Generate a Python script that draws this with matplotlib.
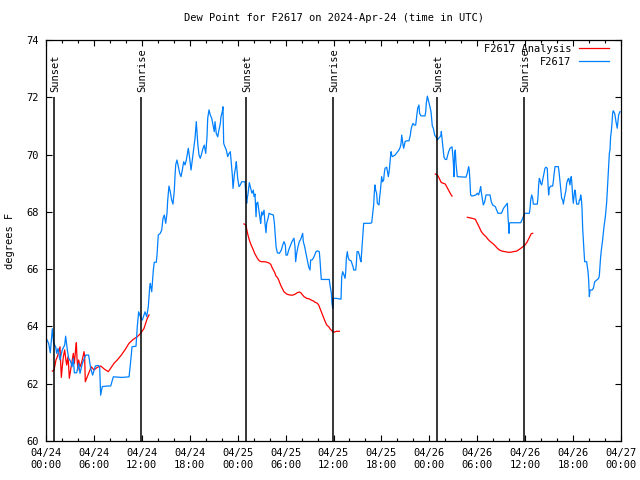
import numpy as np
import matplotlib
matplotlib.use('Agg')
import matplotlib.pyplot as plt
from matplotlib.ticker import MultipleLocator

plt.rcParams['font.family'] = ['DejaVu Sans Mono']
plt.rcParams['font.size'] = 7.5

# hours after 2024-04-24 00:00 UTC, dew point in F
obs_hours = [
    0.00, 0.33, 0.54, 0.67, 0.79, 0.96, 1.21, 1.34, 1.50, 1.75, 2.04, 2.34, 2.46, 2.67,
    2.84, 3.09, 3.26, 3.42, 3.55, 3.84, 4.09, 4.26, 4.55, 4.97, 5.34, 5.59, 5.84, 6.18,
    6.55, 6.72, 6.84, 7.05, 7.68, 8.10, 8.43, 9.55, 10.40, 10.60, 10.77, 11.27, 11.43,
    11.60, 11.90, 12.06, 12.40, 12.61, 12.81, 12.99, 13.06, 13.24, 13.44, 13.56, 13.81,
    13.90, 14.06, 14.31, 14.49, 14.65, 14.81, 14.99, 15.15, 15.24, 15.40, 15.56, 15.74,
    15.90, 16.07, 16.15, 16.24, 16.40, 16.57, 16.74, 16.90, 17.07, 17.24, 17.41, 17.57,
    17.74, 17.82, 17.99, 18.16, 18.32, 18.49, 18.66, 18.82, 19.00, 19.16, 19.32, 19.50,
    19.66, 19.82, 20.00, 20.16, 20.25, 20.41, 20.57, 20.75, 20.91, 21.07, 21.16, 21.32,
    21.50, 21.66, 21.83, 21.91, 22.08, 22.16, 22.25, 22.41, 22.58, 22.75, 22.92, 23.08,
    23.17, 23.33, 23.42, 23.58, 23.75, 23.83, 24.00, 24.17, 24.33, 24.50, 24.92,
    25.00, 25.13, 25.20, 25.29, 25.46, 25.63, 25.79, 25.96, 26.05, 26.17, 26.30, 26.38,
    26.51, 26.64, 26.80, 26.88, 27.01, 27.13, 27.30, 27.42, 27.55, 27.63, 27.80, 27.93,
    28.13, 28.47, 28.60, 28.72, 28.81, 28.97, 29.22, 29.47, 29.64, 29.80, 29.97, 30.05,
    30.22, 30.39, 30.55, 30.80, 30.97, 31.05, 31.18, 31.26, 31.39, 31.55, 31.72, 31.89,
    32.14, 32.22, 32.39, 32.56, 32.72, 32.89, 33.06, 33.14, 33.31, 33.47, 33.64, 33.81,
    33.97, 34.22, 34.31, 34.39, 34.47, 35.47, 35.56, 35.73, 35.81, 35.90, 35.98, 36.40,
    36.94, 37.03, 37.15, 37.32, 37.45, 37.53, 37.61, 37.73, 37.82, 37.95, 38.20, 38.45,
    38.53, 38.78, 38.86, 38.95, 39.11, 39.24, 39.36, 39.45, 39.53, 39.70, 39.78, 40.03,
    40.58, 40.78, 40.86, 41.03, 41.11, 41.19, 41.28, 41.40, 41.49, 41.70, 41.78, 41.86,
    41.95, 42.03, 42.15, 42.28, 42.36, 42.45, 42.66, 42.87, 42.99, 43.12, 43.21, 43.29,
    43.37, 43.70, 44.20, 44.37, 44.46, 44.54, 44.62, 44.71, 44.79, 44.87, 44.96, 45.12,
    45.45, 45.62, 45.70, 45.79, 45.95, 46.12, 46.29, 46.37, 46.45, 46.54, 46.70, 46.78,
    46.95, 47.46, 47.55, 47.62, 47.75, 47.87, 48.05, 48.21, 48.29, 48.37,
    48.50, 48.67, 48.83, 49.00, 49.17, 49.34, 49.46, 49.50, 49.59, 49.67, 49.75, 49.84,
    50.00, 50.17, 50.25, 50.42, 50.59, 50.84, 50.92, 51.00, 51.09, 51.17, 51.25, 51.34,
    51.42, 51.50, 52.59, 52.75, 52.92, 53.00, 53.09, 53.17, 53.34, 53.84, 54.00, 54.17,
    54.34, 54.43, 54.50, 54.67, 54.76, 54.93, 55.10, 55.60, 55.76, 55.93, 56.26, 56.44,
    56.60, 57.02, 57.11, 57.28, 57.44, 57.60, 57.77, 57.85, 57.94, 57.98, 58.02, 58.10,
    59.44, 59.61, 59.77, 59.94, 60.52,
    60.61, 60.69, 60.82, 60.94, 61.02, 61.52, 61.61, 61.69, 61.77, 61.86, 61.94, 62.07,
    62.19, 62.36, 62.48, 62.61, 62.77, 62.82, 62.94, 63.02, 63.19, 63.44, 63.52, 63.61,
    63.74, 64.15, 64.24, 64.36, 64.45, 64.57, 64.70, 64.78, 64.86, 64.99, 65.11, 65.20,
    65.36, 65.45, 65.53, 65.61, 65.70, 65.78, 65.86, 65.95, 66.03, 66.20, 66.28, 66.36,
    66.45, 66.70, 66.78, 66.87, 66.95, 67.03, 67.12, 67.20, 67.28, 67.37, 67.45, 67.70,
    67.87, 67.95, 68.04, 68.12, 68.37, 68.54, 68.71, 68.96, 69.21, 69.29, 69.37, 69.45,
    69.54, 69.62, 69.70, 69.87, 70.04, 70.21, 70.29, 70.37, 70.45, 70.54, 70.62, 70.70,
    70.78, 70.87, 70.95, 71.03, 71.20, 71.28, 71.37, 71.45, 71.53, 71.62, 71.70, 71.78,
    71.87,
]
obs_dew = [
    63.60, 63.41, 63.08, 63.53, 63.92, 63.41, 63.29, 63.06, 63.23, 62.83, 63.18, 63.35, 63.66, 63.18,
    62.89, 62.77, 62.59, 62.89, 62.38, 62.38, 62.71, 62.36, 62.71, 63.00, 63.00, 62.54, 62.30, 62.62,
    62.64, 62.59, 61.60, 61.90, 61.92, 61.92, 62.24, 62.22, 62.24, 62.77, 63.29, 63.31, 63.99,
    64.51, 64.28, 64.22, 64.51, 64.34, 64.69, 65.39, 65.50, 65.21, 65.97, 66.24, 66.24,
    66.49, 67.19, 67.25, 67.37, 67.77, 67.89, 67.60, 67.95, 68.41, 68.90, 68.70, 68.41,
    68.27, 68.76, 69.23, 69.64, 69.81, 69.58, 69.35, 69.23, 69.46, 69.75, 69.64, 69.81,
    70.10, 70.22, 69.87, 69.46, 69.81, 70.16, 70.57, 71.15, 70.39, 69.98, 69.87, 70.04,
    70.22, 70.33, 70.04, 70.62, 71.27, 71.56, 71.38, 71.27, 71.03, 70.80, 71.15, 70.74,
    70.62, 70.86, 71.09, 71.32, 71.50, 71.67, 70.39, 70.27, 70.16, 69.93, 70.04, 70.10,
    69.81, 69.29, 68.82, 69.29, 69.58, 69.75, 69.17, 68.88, 68.94, 69.05, 69.05,
    68.70, 68.30, 68.47, 68.62, 69.02, 68.82, 68.65, 68.76, 68.53, 68.62, 67.83, 68.30,
    68.34, 68.09, 67.77, 67.60, 68.00, 67.89, 68.06, 67.60, 67.27, 67.60, 67.77, 67.95,
    67.92, 67.89, 67.60, 67.13, 66.78, 66.57, 66.55, 66.67, 66.84, 66.96, 66.84, 66.49,
    66.49, 66.67, 66.78, 66.96, 67.04, 67.08, 66.78, 66.26, 66.55, 66.78, 66.96, 67.04,
    67.25, 66.96, 66.78, 66.55, 66.32, 66.08, 65.97, 66.32, 66.32, 66.38, 66.49, 66.61,
    66.64, 66.61, 66.32, 65.97, 65.64, 65.64, 65.45, 65.16, 64.81, 64.63, 64.98, 64.98,
    64.95, 65.74, 65.91, 65.79, 65.68, 65.91, 66.38, 66.61, 66.43, 66.32, 66.29, 66.08,
    65.97, 65.97, 66.20, 66.61, 66.61, 66.49, 66.32, 66.26, 66.61, 67.25, 67.60, 67.60,
    67.60, 67.62, 67.83, 68.24, 68.65, 68.94, 68.76, 68.65, 68.30, 68.24, 68.53, 68.70,
    69.00, 69.23, 69.05, 69.11, 69.35, 69.52, 69.56, 69.23, 69.46, 69.87, 70.10, 69.98,
    69.93, 69.98, 70.16, 70.27, 70.39, 70.68, 70.51, 70.33, 70.22, 70.33, 70.45, 70.48,
    70.48, 70.68, 70.86, 70.97, 71.09, 71.03, 71.03, 71.21, 71.38, 71.62, 71.73, 71.44,
    71.35, 71.35, 71.50, 71.79, 72.04, 71.91, 71.70, 71.50, 71.27, 71.00,
    70.92, 70.68, 70.62, 70.51, 70.57, 70.62, 70.68, 70.80, 70.57, 70.39, 70.16, 69.90,
    69.83, 69.83, 69.93, 70.10, 70.22, 70.27, 70.04, 69.75, 69.23, 70.04, 70.16, 69.69,
    69.46, 69.23, 69.21, 69.35, 69.58, 69.46, 69.05, 68.59, 68.55, 68.59, 68.65, 68.59,
    68.76, 68.88, 68.70, 68.41, 68.24, 68.35, 68.59, 68.59, 68.35, 68.24, 68.18, 68.06,
    67.95, 67.95, 68.00, 68.12, 68.18, 68.24, 68.30, 67.83, 67.48, 67.25, 67.60, 67.62,
    67.62, 67.72, 67.83, 67.95, 67.95,
    68.12, 68.41, 68.59, 68.47, 68.27, 68.27, 68.53, 68.94, 69.17, 69.11, 69.00, 68.94,
    69.11, 69.35, 69.52, 69.56, 69.52, 69.17, 68.59, 68.82, 68.90, 68.90, 69.05, 69.29,
    69.58, 69.58, 69.40, 69.05, 68.76, 68.47, 68.41, 68.27, 68.41, 68.59, 68.76, 69.00,
    69.14, 69.17, 69.05, 68.94, 69.17, 69.23, 68.94, 68.53, 68.30, 68.76, 68.74, 68.47,
    68.27, 68.27, 68.41, 68.41, 68.59, 68.47, 68.12, 67.43, 67.02, 66.61, 66.26, 66.26,
    65.91, 65.62, 65.04, 65.27, 65.27, 65.33, 65.56, 65.62, 65.68, 65.79, 66.14, 66.43,
    66.67, 66.84, 67.02, 67.48, 67.83, 68.35, 68.76, 69.11, 69.58, 70.04, 70.16, 70.62,
    70.80, 71.09, 71.44, 71.53, 71.44, 71.32, 71.15, 71.03, 70.92, 71.15, 71.38, 71.44,
    71.50,
]

nan = float('nan')
ana_hours = [
    0.79, 1.00, 1.13, 1.25, 1.42, 1.59, 1.75, 1.84, 1.92, 2.04, 2.17, 2.34, 2.46, 2.59,
    2.75, 2.84, 2.92, 3.09, 3.26, 3.42, 3.55, 3.72, 3.80, 3.88, 4.00, 4.09, 4.26, 4.42,
    4.59, 4.76, 4.84, 4.92, 5.09, 5.42, 5.67, 6.01, 6.42, 6.84, 7.35, 7.80, 8.10, 8.51,
    8.93, 9.43, 9.93, 10.39, 10.93, 11.43, 11.86, 12.27, 12.68, 12.90, nan,
    24.79, 25.04, 25.13, 25.29, 25.46, 25.63, 25.79, 25.96, 26.13, 26.30, 26.46, 26.71,
    26.96, 27.30, 27.55, 27.89, 28.14, 28.30, 28.47, 28.64, 28.80, 28.97, 29.14, 29.30,
    29.47, 29.64, 29.80, 30.14, 30.47, 30.80, 30.97, 31.22, 31.47, 31.72, 31.89, 32.14,
    32.31, 32.64, 32.97, 33.22, 33.47, 33.72, 33.97, 34.14, 34.31, 34.47, 34.64, 34.81,
    34.97, 35.15, 35.40, 35.56, 35.72, 35.90, 36.06, 36.40, 36.73, nan,
    48.75, 49.00, 49.17, 49.34, 49.50, 49.75, 50.00, 50.17, 50.34, 50.50, 50.67, 50.84, nan,
    52.76, 53.09, 53.43, 53.76, 54.01, 54.26, 54.51, 54.76, 55.10, 55.35, 55.60, 55.93,
    56.26, 56.51, 56.76, 57.10, 57.51, 57.85, 58.19, 58.51, 58.94, 59.27, 59.60, 59.94,
    60.19, 60.44, 60.61, 60.77, 60.94,
]
ana_dew = [
    62.44, 62.48, 62.65, 62.83, 62.94, 63.12, 63.29, 62.71, 62.22, 62.59, 62.94, 63.18, 62.89, 62.65,
    62.94, 62.59, 62.19, 62.48, 62.77, 63.06, 62.71, 63.23, 63.43, 62.89, 62.48, 62.83, 62.59, 62.71,
    62.89, 63.12, 62.94, 62.07, 62.19, 62.42, 62.59, 62.48, 62.57, 62.62, 62.50, 62.42, 62.54, 62.71,
    62.83, 63.00, 63.20, 63.41, 63.55, 63.64, 63.76, 63.93, 64.28, 64.40, nan,
    67.58, 67.54, 67.39, 67.19, 67.02, 66.88, 66.78, 66.67, 66.55, 66.46, 66.38, 66.29,
    66.26, 66.26, 66.25, 66.22, 66.17, 66.06, 65.97, 65.88, 65.76, 65.71, 65.62, 65.50,
    65.39, 65.30, 65.21, 65.13, 65.10, 65.09, 65.10, 65.13, 65.18, 65.20, 65.18, 65.10,
    65.04, 64.98, 64.96, 64.92, 64.89, 64.84, 64.81, 64.75, 64.63, 64.51, 64.40, 64.28,
    64.16, 64.05, 63.99, 63.92, 63.87, 63.82, 63.80, 63.83, 63.83, nan,
    69.32, 69.29, 69.21, 69.11, 69.02, 69.00, 68.97, 68.88, 68.79, 68.70, 68.62, 68.55, nan,
    67.81, 67.79, 67.77, 67.74, 67.60, 67.46, 67.31, 67.22, 67.13, 67.04, 66.97, 66.90,
    66.81, 66.73, 66.67, 66.63, 66.61, 66.59, 66.59, 66.61, 66.63, 66.69, 66.76, 66.83,
    66.92, 67.06, 67.16, 67.24, 67.25,
]

sun_hours = [1.0, 11.95, 25.1, 35.95, 49.0, 59.9]
sun_names = ['Sunset', 'Sunrise', 'Sunset', 'Sunrise', 'Sunset', 'Sunrise']

tick_hours = list(range(0, 73, 6))
tick_labels = ['04/24\n00:00', '04/24\n06:00', '04/24\n12:00', '04/24\n18:00',
               '04/25\n00:00', '04/25\n06:00', '04/25\n12:00', '04/25\n18:00',
               '04/26\n00:00', '04/26\n06:00', '04/26\n12:00', '04/26\n18:00',
               '04/27\n00:00']

fig = plt.figure(figsize=(6.4, 4.8), dpi=100)
ax = fig.add_axes([46 / 640, 1 - 441 / 480, 575 / 640, 401 / 480])

ax.plot(ana_hours, ana_dew, color='#ff0000', lw=0.9, label='F2617 Analysis')
ax.plot(obs_hours, obs_dew, color='#0080ff', lw=0.9, label='F2617')

ax.vlines(sun_hours, 60, 72, color='black', lw=1.1)
for h, name in zip(sun_hours, sun_names):
    ax.text(h + 0.15, 72.2, name, rotation=90, ha='center', va='bottom')

ax.set_xlim(0, 72)
ax.set_ylim(60, 74)
ax.set_xticks(tick_hours)
ax.set_xticklabels(tick_labels)
ax.xaxis.set_minor_locator(MultipleLocator(2))
ax.set_yticks(range(60, 75, 2))
ax.tick_params(which='both', direction='in', top=True, right=True, width=0.8)
ax.tick_params(which='major', length=4, pad=5)
ax.tick_params(which='minor', length=2.2)
for s in ax.spines.values():
    s.set_linewidth(0.9)

ax.set_title('Dew Point for F2617 on 2024-Apr-24 (time in UTC)', fontsize=7.5, pad=14)
ax.set_ylabel('degrees F', labelpad=8)

ax.legend(loc='upper right', bbox_to_anchor=(1 - 10 / 575, 1 - 2 / 401), markerfirst=False,
          frameon=False, handlelength=2.9, handletextpad=0.7, labelspacing=0.25,
          borderaxespad=0, borderpad=0.2)

fig.savefig('out.png', dpi=100)
